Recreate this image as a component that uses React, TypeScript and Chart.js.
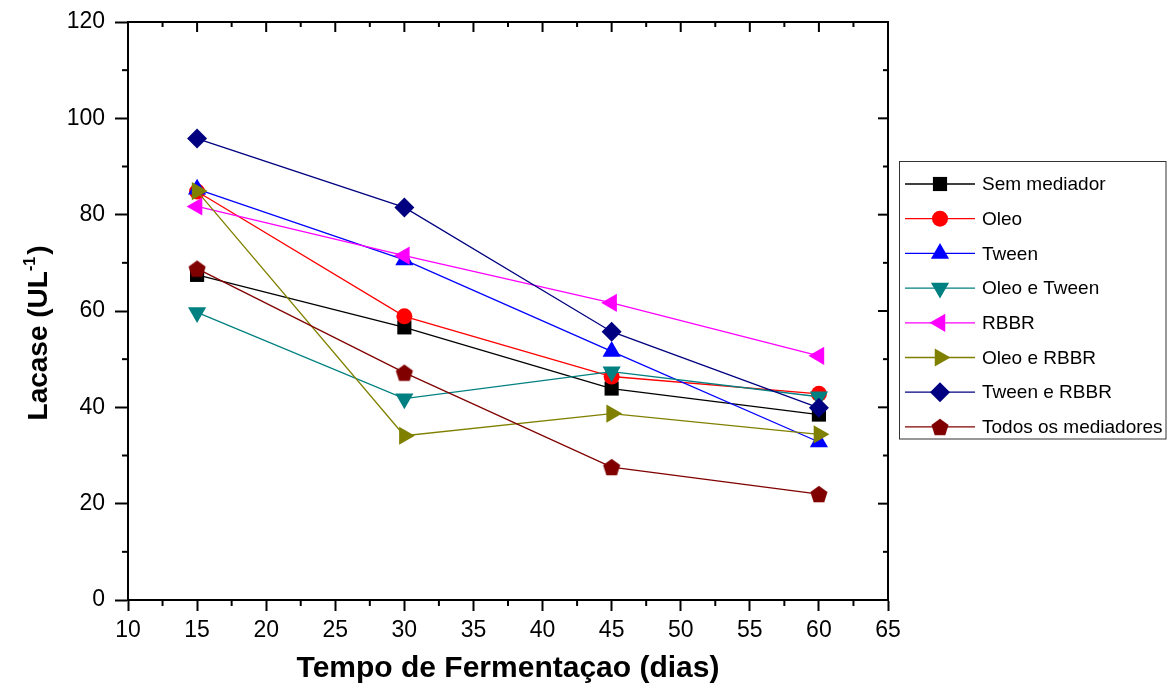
import React, { useEffect, useRef } from "react";
import { Chart, registerables } from "chart.js";
import { drawPoint } from "chart.js/helpers";

Chart.register(...registerables);

const days = [15, 30, 45, 60];
const semMediador = [67.5, 56.6, 43.9, 38.5];
const oleo = [84.8, 58.9, 46.4, 42.8];
const tween = [85.3, 70.6, 51.6, 32.8];
const oleoTween = [59.7, 41.8, 47.4, 42.2];
const rbbr = [81.7, 71.5, 61.7, 50.7];
const oleoRbbr = [84.9, 34.1, 38.7, 34.4];
const tweenRbbr = [95.8, 81.5, 55.7, 39.9];
const todos = [68.8, 47.2, 27.6, 22.0];

const seriesNames = [
  "Sem mediador",
  "Oleo",
  "Tween",
  "Oleo e Tween",
  "RBBR",
  "Oleo e RBBR",
  "Tween e RBBR",
  "Todos os mediadores",
];
const seriesValues = [semMediador, oleo, tween, oleoTween, rbbr, oleoRbbr, tweenRbbr, todos];
const seriesColors = ["#000000", "#FF0000", "#0000FF", "#008080", "#FF00FF", "#808000", "#000080", "#800000"];

const xTickValues = [10, 15, 20, 25, 30, 35, 40, 45, 50, 55, 60, 65];
const yTickValues = [0, 20, 40, 60, 80, 100, 120];

const FONT = "'Liberation Sans', Arial, Helvetica, sans-serif";

function makePentagon(color: string, R: number): HTMLCanvasElement {
  const c = document.createElement("canvas");
  const size = Math.ceil(2 * R) + 2;
  c.width = size;
  c.height = size;
  const ctx = c.getContext("2d")!;
  const cx = size / 2;
  const cy = size / 2 + R * 0.095;
  ctx.beginPath();
  for (let i = 0; i < 5; i++) {
    const a = -Math.PI / 2 + (i * 2 * Math.PI) / 5;
    const px = cx + R * Math.cos(a);
    const py = cy + R * Math.sin(a);
    if (i === 0) ctx.moveTo(px, py);
    else ctx.lineTo(px, py);
  }
  ctx.closePath();
  ctx.fillStyle = color;
  ctx.fill();
  return c;
}

export default function App() {
  const ref = useRef<HTMLCanvasElement | null>(null);

  useEffect(() => {
    if (!ref.current) return;
    const pentagon = makePentagon(seriesColors[7], 9);
    const markers: { style: any; radius: number; rotation: number }[] = [
      { style: "rect", radius: 10, rotation: 0 },
      { style: "circle", radius: 8, rotation: 0 },
      { style: "triangle", radius: 10.5, rotation: 0 },
      { style: "triangle", radius: 10.5, rotation: 180 },
      { style: "triangle", radius: 10.5, rotation: 270 },
      { style: "triangle", radius: 10.5, rotation: 90 },
      { style: "rectRot", radius: 10, rotation: 0 },
      { style: pentagon, radius: 9, rotation: 0 },
    ];

    const datasets = seriesNames.map((name, i) => ({
      label: name,
      data: days.map((d, j) => ({ x: d, y: seriesValues[i][j] })),
      borderColor: seriesColors[i],
      backgroundColor: seriesColors[i],
      borderWidth: 1.3,
      pointStyle: markers[i].style,
      pointRadius: markers[i].radius,
      pointRotation: markers[i].rotation,
      pointBackgroundColor: seriesColors[i],
      pointBorderColor: seriesColors[i],
      pointBorderWidth: 0,
      pointHoverRadius: markers[i].radius,
      tension: 0,
      order: 10 - i,
      clip: false as any,
    }));

    const framePlugin = {
      id: "frame",
      afterDraw(chart: any) {
        const ctx = chart.ctx;
        const { left, right, top, bottom } = chart.chartArea;
        const xs = chart.scales.x;
        const ys = chart.scales.y;
        ctx.save();
        ctx.strokeStyle = "#000";
        ctx.lineWidth = 2;
        ctx.beginPath();
        ctx.moveTo(left - 1, top);
        ctx.lineTo(right, top);
        ctx.lineTo(right, bottom);
        ctx.stroke();
        // top ticks (inward) and bottom minor ticks (outward)
        for (let v = 10; v <= 65; v += 2.5) {
          const px = xs.getPixelForValue(v);
          const major = Math.abs(v % 5) < 1e-6;
          ctx.beginPath();
          ctx.moveTo(px, top);
          ctx.lineTo(px, top + (major ? 10 : 5));
          ctx.stroke();
          if (!major) {
            ctx.beginPath();
            ctx.moveTo(px, bottom);
            ctx.lineTo(px, bottom + 6);
            ctx.stroke();
          }
        }
        // right ticks (inward) and left minor ticks (outward)
        for (let v = 0; v <= 120; v += 10) {
          const py = ys.getPixelForValue(v);
          const major = v % 20 === 0;
          ctx.beginPath();
          ctx.moveTo(right, py);
          ctx.lineTo(right - (major ? 10 : 5), py);
          ctx.stroke();
          if (!major) {
            ctx.beginPath();
            ctx.moveTo(left, py);
            ctx.lineTo(left - 6, py);
            ctx.stroke();
          }
        }

        // y axis title with superscript
        ctx.fillStyle = "#000";
        ctx.translate(47, 333);
        ctx.rotate(-Math.PI / 2);
        ctx.textBaseline = "alphabetic";
        ctx.textAlign = "left";
        const big = `bold 28px ${FONT}`;
        const small = `bold 16px ${FONT}`;
        ctx.font = big;
        const p1 = "Lacase (UL";
        const p3 = ")";
        const w1 = ctx.measureText(p1).width;
        const w3 = ctx.measureText(p3).width;
        ctx.font = small;
        const p2 = "-1";
        const w2 = ctx.measureText(p2).width;
        const total = w1 + w2 + w3 + 2;
        let x0 = -total / 2;
        ctx.font = big;
        ctx.fillText(p1, x0, 0);
        x0 += w1;
        ctx.font = small;
        ctx.fillText(p2, x0, -12);
        x0 += w2 + 2;
        ctx.font = big;
        ctx.fillText(p3, x0, 0);
        ctx.restore();

        // legend
        ctx.save();
        ctx.strokeStyle = "#333";
        ctx.lineWidth = 1;
        ctx.strokeRect(899.5, 161.5, 266.5, 277.5);
        const rowY0 = 184;
        const rowStep = 34.7;
        ctx.font = `19px ${FONT}`;
        ctx.textBaseline = "middle";
        ctx.textAlign = "left";
        seriesNames.forEach((name, i) => {
          const y = rowY0 + i * rowStep;
          ctx.strokeStyle = seriesColors[i];
          ctx.lineWidth = 1.3;
          ctx.beginPath();
          ctx.moveTo(905, y);
          ctx.lineTo(975, y);
          ctx.stroke();
          ctx.fillStyle = seriesColors[i];
          const m = markers[i];
          if (typeof m.style === "string") {
            drawPoint(ctx, { pointStyle: m.style, radius: m.radius, rotation: m.rotation, borderWidth: 0 } as any, 940, y);
          } else {
            const c = m.style as HTMLCanvasElement;
            ctx.drawImage(c, 940 - c.width / 2, y - c.height / 2);
          }
          ctx.fillStyle = "#000";
          ctx.fillText(name, 982, y + 1);
        });
        ctx.restore();
      },
    };

    const chart = new Chart(ref.current, {
      type: "line",
      data: { datasets: datasets as any },
      plugins: [framePlugin],
      options: {
        animation: false,
        responsive: false,
        devicePixelRatio: 1,
        layout: { padding: { left: 0, top: 22, right: 287, bottom: 0 } },
        plugins: {
          legend: { display: false },
          tooltip: { enabled: false },
        },
        scales: {
          x: {
            type: "linear",
            min: 10,
            max: 65,
            afterFit(scale: any) {
              scale.height = 88;
            },
            afterBuildTicks(scale: any) {
              scale.ticks = xTickValues.map((v) => ({ value: v }));
            },
            ticks: {
              color: "#000",
              font: { family: FONT, size: 23 },
              padding: 6,
              maxRotation: 0,
              autoSkip: false,
            },
            grid: {
              drawOnChartArea: false,
              drawTicks: true,
              tickLength: 11,
              tickWidth: 2,
              tickColor: "#000",
            },
            border: { display: true, color: "#000", width: 2 },
            title: {
              display: true,
              text: "Tempo de Fermentaçao (dias)",
              color: "#000",
              font: { family: FONT, size: 30, weight: "bold" },
              padding: { top: 0, bottom: 1 },
            },
          },
          y: {
            type: "linear",
            min: 0,
            max: 120,
            afterFit(scale: any) {
              scale.width = 128;
              scale.paddingTop = 0;
              scale.paddingBottom = 0;
            },
            afterBuildTicks(scale: any) {
              scale.ticks = yTickValues.map((v) => ({ value: v }));
            },
            ticks: {
              color: "#000",
              font: { family: FONT, size: 23 },
              padding: 10,
              autoSkip: false,
            },
            grid: {
              drawOnChartArea: false,
              drawTicks: true,
              tickLength: 13,
              tickWidth: 2,
              tickColor: "#000",
            },
            border: { display: true, color: "#000", width: 2 },
          },
        },
      },
    });
    return () => chart.destroy();
  }, []);

  return (
    <div style={{ position: "fixed", left: 0, top: 0, width: 1175, height: 688, background: "#fff" }}>
      <canvas ref={ref} width={1175} height={688} style={{ width: 1175, height: 688 }} />
    </div>
  );
}
